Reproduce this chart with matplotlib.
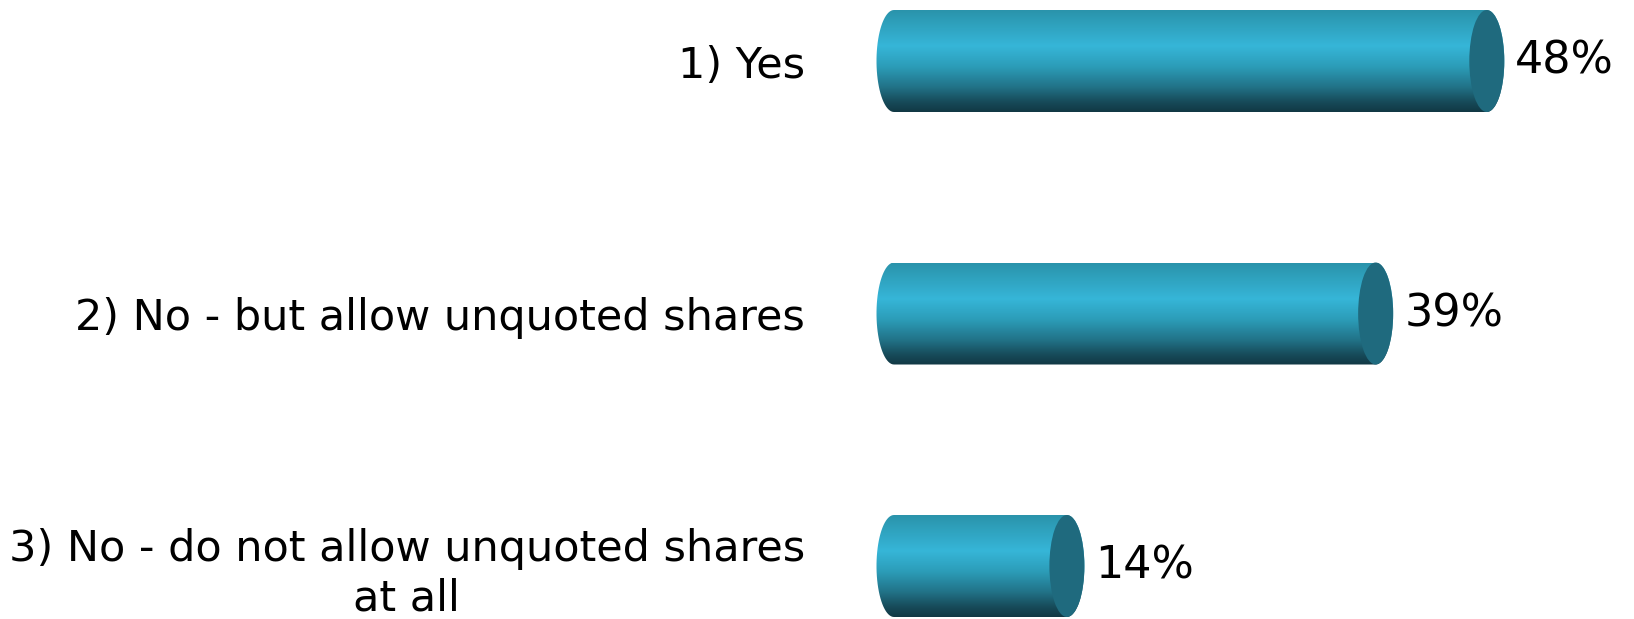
import numpy as np
import matplotlib
matplotlib.use('Agg')
import matplotlib.pyplot as plt
from matplotlib.patches import Ellipse, PathPatch
from matplotlib.path import Path
from matplotlib.colors import LinearSegmentedColormap

categories = ['1) Yes',
              '2) No - but allow unquoted shares',
              '3) No - do not allow unquoted shares\nat all']
values = [48, 39, 14]
value_labels = ['48%', '39%', '14%']

W, H = 1634, 619
fig = plt.figure(figsize=(W / 100, H / 100), dpi=100)
font = 'DejaVu Sans'

# axes placed so that x=0 sits at the left cap centre of the cylinders
px_per_unit = 12.35
x0_px = 894
ax_left_px = 860
ax = fig.add_axes([ax_left_px / W, 0, 1 - ax_left_px / W, 1])
row_px = 252.5
first_px = 61
ax.set_ylim((H - first_px) / row_px, -first_px / row_px)

bar_h = 102 / row_px
cap_w = 35 / px_per_unit

grad = LinearSegmentedColormap.from_list('cyl', [
    (0.0, '#2A93AB'),
    (0.35, '#36B6D8'),
    (0.55, '#2C9DB9'),
    (0.75, '#227489'),
    (0.9, '#174B5A'),
    (1.0, '#113844'),
])
cap_color = '#1F6A7E'

def half_ellipse(cx, cy, w, h, start, stop, n=40):
    t = np.linspace(start, stop, n)
    return np.column_stack([cx + w / 2 * np.cos(t), cy + h / 2 * np.sin(t)])

for i, v in enumerate(values):
    left = half_ellipse(0, i, cap_w, bar_h, np.pi / 2, 3 * np.pi / 2)
    right = half_ellipse(v, i, cap_w, bar_h, -np.pi / 2, np.pi / 2)
    verts = np.vstack([left, right, left[:1]])
    codes = [Path.MOVETO] + [Path.LINETO] * (len(verts) - 2) + [Path.CLOSEPOLY]
    body = PathPatch(Path(verts, codes), facecolor='none', edgecolor='none')
    ax.add_patch(body)
    g = np.linspace(0, 1, 256).reshape(-1, 1)
    im = ax.imshow(g, cmap=grad, aspect='auto', interpolation='bilinear',
                   extent=(-cap_w, v + cap_w, i + bar_h / 2, i - bar_h / 2),
                   origin='upper', zorder=2)
    im.set_clip_path(body)
    ax.add_patch(Ellipse((v, i), cap_w, bar_h, facecolor=cap_color,
                         edgecolor='none', zorder=3))
    ax.text(v + cap_w / 2 + 11 / px_per_unit, i, value_labels[i],
            fontsize=32, va='center', ha='left', color='black',
            family=font)

ax.set_yticks(range(len(categories)))
ax.set_yticklabels(categories, fontsize=31, family=font,
                   multialignment='center', linespacing=1.2)
ax.tick_params(axis='y', length=0, pad=(ax_left_px - 805) * 0.72)
ax.tick_params(axis='x', bottom=False, labelbottom=False)
for s in ax.spines.values():
    s.set_visible(False)
ax.set_xlim((ax_left_px - x0_px) / px_per_unit, (W - x0_px) / px_per_unit)

fig.savefig('out.png', dpi=100)
